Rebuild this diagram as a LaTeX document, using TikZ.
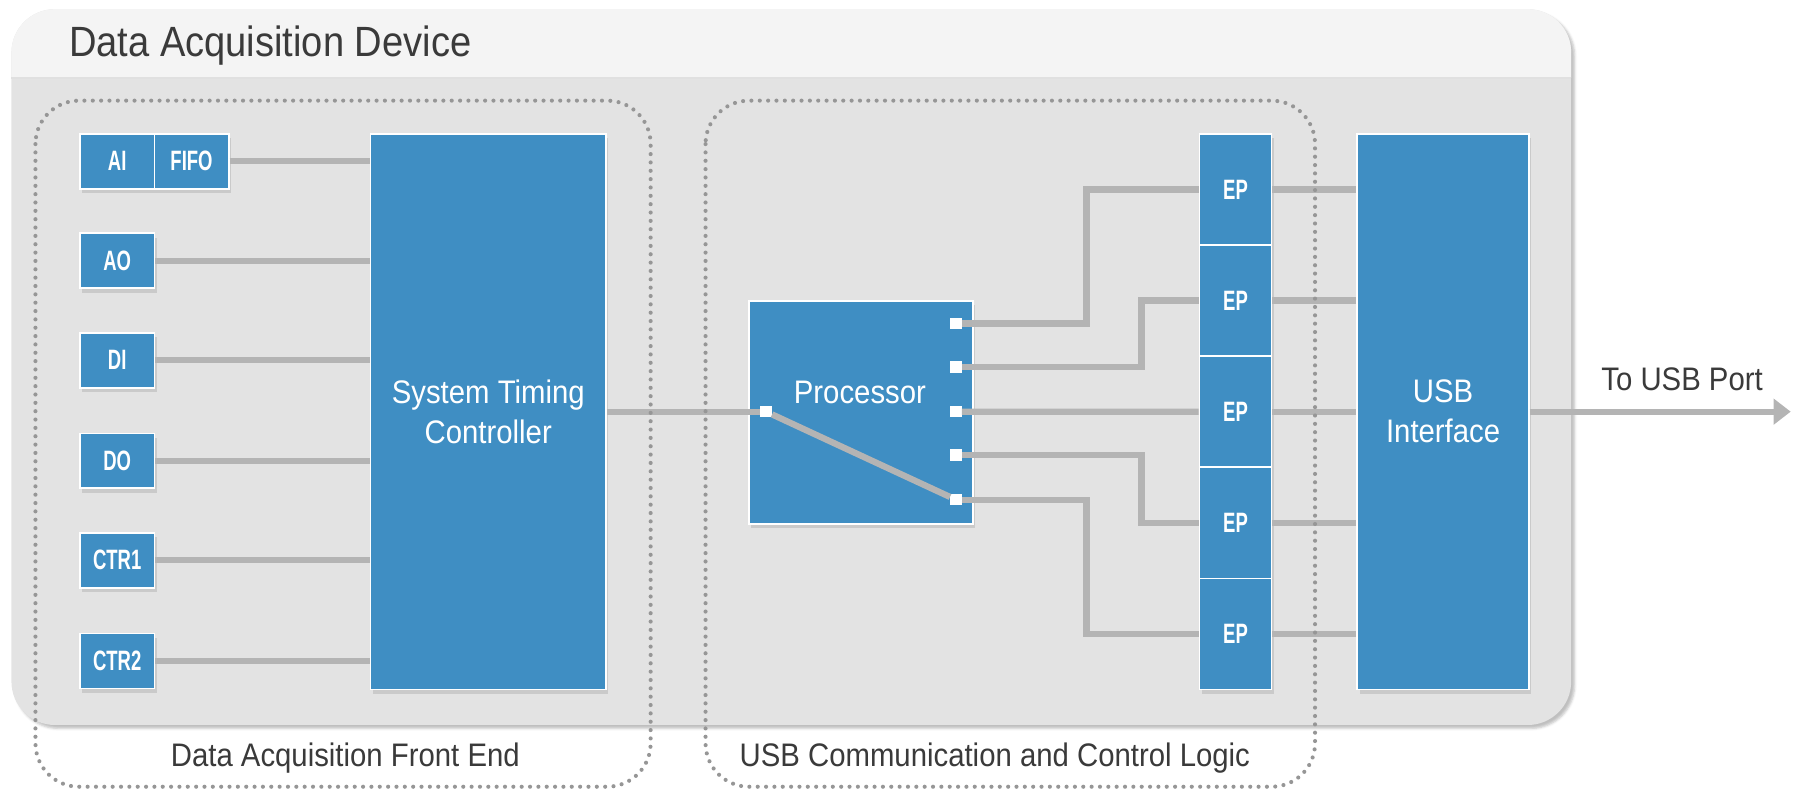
\documentclass[tikz,border=0pt]{standalone}
\usepackage{fontspec}
\setmainfont{Liberation Sans}[FakeStretch=0.9]
\newfontfamily\tagfont{Liberation Sans}[FakeStretch=0.66]
\usetikzlibrary{arrows.meta,shadows,shadows.blur}

\definecolor{boxblue}{RGB}{63,142,195}
\definecolor{panelgray}{RGB}{227,227,227}
\definecolor{headgray}{RGB}{244,244,244}
\definecolor{wiregray}{RGB}{180,180,180}
\definecolor{dotgray}{RGB}{150,150,150}
\definecolor{textgray}{RGB}{58,58,58}

\newcommand\devtitle{\fontsize{37}{40}\selectfont}
\newcommand\boxtext{\fontsize{28.5}{35}\selectfont}
\newcommand\tagtext{\tagfont\bfseries\fontsize{24.5}{24.5}\selectfont}

\begin{document}
\begin{tikzpicture}[x=1pt, y=-1pt,
    block/.style={fill=boxblue, draw=white, line width=1.5pt, text=white, inner sep=0pt,
      drop shadow={shadow xshift=2pt, shadow yshift=-4pt, opacity=0.25}},
    tag/.style={block, minimum width=65pt, minimum height=48pt, font=\tagtext},
    port/.style={fill=white, minimum size=10pt, inner sep=0pt},
    wire/.style={draw=wiregray, line width=5.5pt},
    group/.style={draw=dotgray, line width=3.6pt, dash pattern=on 0pt off 7.3pt,
      line cap=round, rounded corners=38pt},
    caption/.style={text=textgray, font=\boxtext}]
    \useasboundingbox (0,0) rectangle (1568,690);

    % Device panel with its header band
    \fill[panelgray, rounded corners=38pt,
      blur shadow={shadow xshift=3pt, shadow yshift=-3pt, shadow opacity=25}]
      (10,8) rectangle (1374,634);
    \begin{scope}
      \clip (10,8) rectangle (1374,68);
      \fill[headgray, rounded corners=38pt] (10,8) rectangle (1374,634);
    \end{scope}
    \draw[black!12, line width=1.5pt] (10,68) -- (1374,68);
    \node[anchor=west, text=textgray, font=\devtitle] (title) at (57,40) {Data Acquisition Device};

    % Front end channels
    \node[tag] (ai) at (102.5,141) {AI};
    \node[tag] (fifo) at (167.5,141) {FIFO};
    \foreach \name/\txt/\y in {ao/AO/228, di/DI/315, do/DO/403, ctr1/CTR1/490, ctr2/CTR2/578}
        \node[tag] (\name) at (102.5,\y) {\txt};

    \node[block, minimum width=206pt, minimum height=486pt, font=\boxtext, align=center]
        (stc) at (427,360) {System Timing\\Controller};

    % Processor and its ports
    \node[block, minimum width=196pt, minimum height=195pt] (proc) at (753,360.5) {};
    \node[text=white, font=\boxtext] (proclbl) at (752,343) {Processor};
    \node[port] (p0) at (670,360) {};
    \foreach \i/\y in {1/283, 2/321, 3/360, 4/398, 5/437}
        \node[port] (p\i) at (836,\y) {};

    % Endpoints and USB interface
    \foreach \i in {1,...,5}
        \node[block, minimum width=63pt, minimum height=97.2pt, font=\tagtext]
            (ep\i) at (1080.5,{117+97.2*(\i-0.5)}) {EP};
    \node[block, minimum width=150pt, minimum height=486pt, font=\boxtext, align=center]
        (usb) at (1262,360) {USB\\Interface};

    % Wires
    \foreach \name in {fifo, ao, di, do, ctr1, ctr2}
        \draw[wire] (\name.east) -- (stc.west |- \name.east);
    \draw[wire] (stc.east) -- (p0);
    \draw[wire] (p0) -- (p5);
    \draw[wire] (p1.east) -- ++(109,0) |- (ep1.west);
    \draw[wire] (p2.east) -- ++(157,0) |- (ep2.west);
    \draw[wire] (p3) -- (ep3);
    \draw[wire] (p4.east) -- ++(157,0) |- (ep4.west);
    \draw[wire] (p5.east) -- ++(109,0) |- (ep5.west);
    \foreach \i in {1,...,5}
        \draw[wire] (ep\i.east) -- (usb.west |- ep\i.east);

    % Output to the host
    \coordinate (host) at (1566,360);
    \draw[wire, -{Triangle[length=15pt, width=22pt]}] (usb.east) -- (host);
    \node[caption] (hostlbl) at (1471,332) {To USB Port};

    % Dotted groups
    \draw[group] (31,88) rectangle (569,688);
    \draw[group] (617,88) rectangle (1150,688);
    \node[caption] (frontlbl) at (302,663) {Data Acquisition Front End};
    \node[caption] (usblbl) at (870,663) {USB Communication and Control Logic};
\end{tikzpicture}
\end{document}
